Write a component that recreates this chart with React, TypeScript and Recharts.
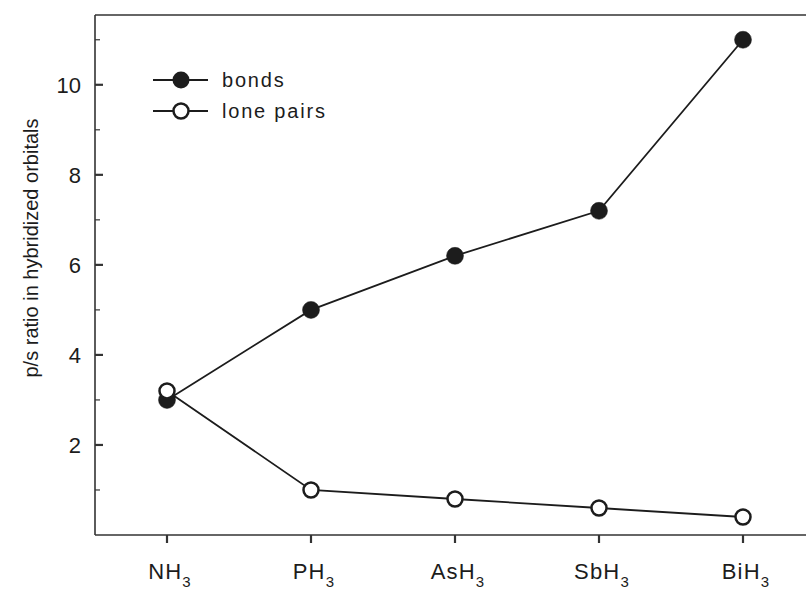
import React from "react";
import { LineChart, Line, XAxis, YAxis, Legend } from "recharts";

// hydrides of group 15, subscript "3" is added by the tick renderer
const categories = ["NH", "PH", "AsH", "SbH", "BiH"];
const bonds = [3.0, 5.0, 6.2, 7.2, 11.0];
const lonePairs = [3.2, 1.0, 0.8, 0.6, 0.4];
const yTicks = [1, 2, 3, 4, 5, 6, 7, 8, 9, 10, 11];
const yLabels = [2, 4, 6, 8, 10];

const INK = "#1c1c1c";
const AXIS = "#333333";
const FONT = "'Liberation Sans', Arial, sans-serif";

const data = categories.map((name, i) => ({
  x: i,
  name,
  bonds: bonds[i],
  lone: lonePairs[i],
}));

const XTick = (props: any) => {
  const { x, y, payload } = props;
  const name = categories[payload.value];
  return (
    <text
      x={x + 3}
      y={y + 36}
      textAnchor="middle"
      fontSize={22}
      letterSpacing={1.2}
      fill={INK}
      fontFamily={FONT}
    >
      <tspan>{name}</tspan>
      <tspan fontSize={15} dy={8}>3</tspan>
    </text>
  );
};

const YTick = (props: any) => {
  const { x, y, payload } = props;
  const major = yLabels.includes(payload.value);
  return (
    <g>
      <line
        x1={x}
        x2={x + (major ? 8 : 5)}
        y1={y}
        y2={y}
        stroke={AXIS}
        strokeWidth={major ? 2.2 : 1.2}
      />
      {major && (
        <text
          x={x - 14}
          y={y + 8}
          textAnchor="end"
          fontSize={22}
          fill={INK}
          fontFamily={FONT}
        >
          {payload.value}
        </text>
      )}
    </g>
  );
};

const YLabel = () => (
  <text
    x={38}
    y={248}
    transform="rotate(-90, 38, 248)"
    textAnchor="middle"
    fontSize={20}
    fill={INK}
    fontFamily={FONT}
  >
    p/s ratio in hybridized orbitals
  </text>
);

const LegendBox = () => (
  <svg width={200} height={60}>
    <line x1={3} x2={58} y1={15} y2={15} stroke={INK} strokeWidth={1.8} />
    <circle cx={31} cy={15} r={8.5} fill={INK} />
    <text x={72} y={22} fontSize={20} letterSpacing={1.8} fill={INK} fontFamily={FONT}>
      bonds
    </text>
    <line x1={3} x2={58} y1={46} y2={46} stroke={INK} strokeWidth={1.8} />
    <circle cx={31} cy={46} r={7.5} fill="#fff" stroke={INK} strokeWidth={2.5} />
    <text x={72} y={53} fontSize={20} letterSpacing={1.8} fill={INK} fontFamily={FONT}>
      lone pairs
    </text>
  </svg>
);

export default function App() {
  return (
    <div
      style={{
        position: "fixed",
        left: 0,
        top: 0,
        width: 806,
        height: 589,
        overflow: "hidden",
        background: "#fff",
        fontFamily: FONT,
      }}
    >
      <LineChart
        width={830}
        height={589}
        data={data}
        margin={{ top: 14, right: 15, bottom: 30, left: 15 }}
      >
        <XAxis
          xAxisId="top"
          orientation="top"
          type="number"
          dataKey="x"
          domain={[-0.5, 4.5]}
          height={1}
          tick={false}
          tickLine={false}
          axisLine={{ stroke: AXIS, strokeWidth: 1.6 }}
        />
        <XAxis
          type="number"
          dataKey="x"
          domain={[-0.5, 4.5]}
          ticks={[0, 1, 2, 3, 4]}
          height={24}
          tickSize={8}
          tickMargin={0}
          tick={<XTick />}
          tickLine={{ stroke: AXIS, strokeWidth: 2.2 }}
          axisLine={{ stroke: AXIS, strokeWidth: 1.6 }}
        />
        <YAxis
          type="number"
          domain={[0, 11.55]}
          ticks={yTicks}
          width={80}
          tickSize={0}
          tickMargin={0}
          tickLine={false}
          tick={<YTick />}
          axisLine={{ stroke: AXIS, strokeWidth: 1.6 }}
          label={<YLabel />}
        />
        <Legend
          layout="vertical"
          align="center"
          verticalAlign="middle"
          wrapperStyle={{ position: "absolute", left: 150, top: 65, width: 200, height: 60 }}
          content={<LegendBox />}
        />
        <Line
          dataKey="bonds"
          stroke={INK}
          strokeWidth={1.8}
          dot={{ r: 8.5, fill: INK, stroke: INK, strokeWidth: 0.5 }}
          activeDot={false}
          isAnimationActive={false}
        />
        <Line
          dataKey="lone"
          stroke={INK}
          strokeWidth={1.8}
          dot={{ r: 7.5, fill: "#fff", stroke: INK, strokeWidth: 2.5 }}
          activeDot={false}
          isAnimationActive={false}
        />
      </LineChart>
    </div>
  );
}
